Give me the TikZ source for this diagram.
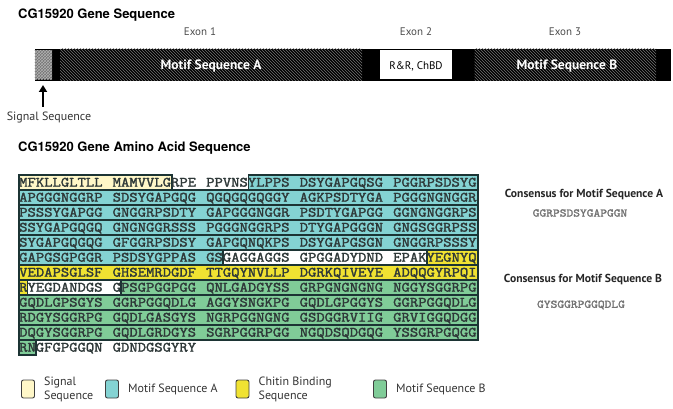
\documentclass[tikz,border=0pt]{standalone}
\usepackage{fontspec}
\setmainfont{PT Sans}
\newfontfamily\headfont{TeX Gyre Heros}
\newfontfamily\seqfont{Latin Modern Mono}[FakeBold=2,FakeStretch=1.14]
\usetikzlibrary{arrows.meta, positioning, patterns}

\definecolor{sigfill}{HTML}{FFF7C8}
\definecolor{motafill}{HTML}{84D3D3}
\definecolor{chbfill}{HTML}{F0E232}
\definecolor{motbfill}{HTML}{80CC98}
\definecolor{seqline}{HTML}{1C3434}
\definecolor{seqtext}{HTML}{2E3838}

\tikzset{%
   % headings above the two panels
   headline/.style={
      font=\headfont\bfseries\fontsize{13}{15}\selectfont,
      anchor=west,
      inner sep=0pt
   },
   exon/.style={font=\fontsize{11}{13}\selectfont, text=black!70},
   barlabel/.style={font=\bfseries\fontsize{13.5}{15}\selectfont, text=white},
   % one group of ten residues
   seqgroup/.style={
      font=\seqfont\fontsize{14.2}{15}\selectfont,
      anchor=base west,
      inner sep=0pt,
      text=seqtext
   },
   rowbox/.style={draw=seqline, line width=1.1pt},
   sigbox/.style={rowbox, fill=sigfill},
   motabox/.style={rowbox, fill=motafill},
   chbbox/.style={rowbox, fill=chbfill},
   motbbox/.style={rowbox, fill=motbfill},
   plainbox/.style={rowbox, fill=white},
   cons/.style={font=\bfseries\fontsize{11.6}{13}\selectfont, text=black!85},
   consseq/.style={font=\seqfont\fontsize{11.5}{13}\selectfont, text=black!55},
   legbox/.style={
      draw=black!75,
      line width=0.9pt,
      rounded corners=2pt,
      minimum width=13pt,
      minimum height=18pt,
      inner sep=0pt
   },
   leglabel/.style={
      font=\fontsize{12}{14}\selectfont,
      text=black!80,
      align=left,
      inner sep=0pt,
      right=9pt of #1
   },
}

% row, first column, last column, style
\newcommand\aabox[4]{%
   \path[#4] ({19+#2*8.5},{175+(#1-1)*15}) rectangle ({19+(#3+1)*8.5},{175+#1*15});}

\begin{document}
\begin{tikzpicture}[x=1pt, y=-1pt]
\useasboundingbox (0,0) rectangle (673,409);

% gene sequence
\node[headline] (genehead) at (18,15) {CG15920 Gene Sequence};
\node[exon] (exon1) at (200,32) {Exon 1};
\node[exon] (exon2) at (416,32) {Exon 2};
\node[exon] (exon3) at (565,32) {Exon 3};

\fill[black] (34.5,49) rectangle (671,81);
\fill[pattern=north west lines, pattern color=black!55] (60,49) rectangle (362,81);
\fill[pattern=north west lines, pattern color=black!55] (474.5,49) rectangle (656,81);
\fill[black!55] (34.5,50.5) rectangle (52,79.5);
\fill[pattern=crosshatch, pattern color=black!30] (34.5,50.5) rectangle (52,79.5);
\fill[white] (380,50.5) rectangle (452,79.5);

\node[barlabel] (motA) at (211,66) {Motif Sequence A};
\node[font=\fontsize{11}{13}\selectfont] (rrchbd) at (416,66) {R\&R, ChBD};
\node[barlabel] (motB) at (567,66) {Motif Sequence B};

\node[font=\fontsize{12}{14}\selectfont, text=black!80] (sigtxt) at (49,118) {Signal Sequence};
\coordinate (sigtail) at (43,107);
\coordinate (sigtip) at (43,85);
\draw[-{Triangle[length=7pt, width=8pt]}, line width=2pt] (sigtail) -- (sigtip);

% amino acid sequence
\node[headline] (aahead) at (18,148) {CG15920 Gene Amino Acid Sequence};

\foreach \r/\c/\d/\s in {1/0/17/sigbox, 1/27/53/motabox,
      2/0/53/motabox, 3/0/53/motabox, 4/0/53/motabox, 5/0/53/motabox,
      6/0/23/motabox, 6/24/47/plainbox, 6/48/53/chbbox,
      7/0/53/chbbox,
      8/0/0/chbbox, 8/1/11/plainbox, 8/12/53/motbbox,
      9/0/53/motbbox, 10/0/53/motbbox, 11/0/53/motbbox,
      12/0/1/motbbox}
   \aabox{\r}{\c}{\d}{\s};

\foreach \r/\a/\b/\c/\d/\e in {
      1/MFKLLGLTLL/MAMVVLGRPE/PPVNSYLPPS/DSYGAPGQSG/PGGRPSDSYG,
      2/APGGGNGGRP/SDSYGAPGQG/QGQGQGQGGY/AGKPSDTYGA/PGGGNGNGGR,
      3/PSSSYGAPGG/GNGGRPSDTY/GAPGGGNGGR/PSDTYGAPGG/GGNGNGGRPS,
      4/SSYGAPGQGQ/GNGNGGRSSS/PGGGNGGRPS/DTYGAPGGGN/GNGSGGRPSS,
      5/SYGAPGQGQG/GFGGRPSDSY/GAPGQNQKPS/DSYGAPGSGN/GNGGRPSSSY,
      6/GAPGSGPGGR/PSDSYGPPAS/GSGAGGAGGS/GPGGADYDND/EPAKYEGNYQ,
      7/VEDAPSGLSF/GHSEMRDGDF/TTGQYNVLLP/DGRKQIVEYE/ADQQGYRPQI,
      8/RYEGDANDGS/GPSGPGGPGG/QNLGADGYSS/GRPGNGNGNG/NGGYSGGRPG,
      9/GQDLGPSGYS/GGRPGGQDLG/AGGYSNGKPG/GQDLGPGGYS/GGRPGGQDLG,
      10/RDGYSGGRPG/GQDLGASGYS/NGRPGGNGNG/GSDGGRVIIG/GRVIGGQDGG,
      11/DQGYSGGRPG/GQDLGRDGYS/SGRPGGRPGG/NGQDSQDGQG/YSSGRPGQGG,
      12/RNGFGPGGQN/GDNDGSGYRY/{}/{}/{}}
   \foreach \g/\t in {0/\a, 1/\b, 2/\c, 3/\d, 4/\e}
      \node[seqgroup] (seq\r-\g) at ({19+\g*11*8.5},{175+(\r-1)*15+11.6}) {\t};

% consensus motifs
\node[cons] (consA) at (584,195) {Consensus for Motif Sequence A};
\node[consseq] (consAseq) at (580,213) {GGRPSDSYGAPGGN};
\node[cons] (consB) at (583,280) {Consensus for Motif Sequence B};
\node[consseq] (consBseq) at (581,305) {GYSGGRPGGQDLG};

% legend
\node[legbox, fill=sigfill] (legsig) at (28,389) {};
\node[leglabel=legsig] (legsigtxt) {Signal\\Sequence};
\node[legbox, fill=motafill] (legmota) at (112,389) {};
\node[leglabel=legmota] (legmotatxt) {Motif Sequence A};
\node[legbox, fill=chbfill] (legchb) at (242.5,389) {};
\node[leglabel=legchb] (legchbtxt) {Chitin Binding\\Sequence};
\node[legbox, fill=motbfill] (legmotb) at (380,389) {};
\node[leglabel=legmotb] (legmotbtxt) {Motif Sequence B};
\end{tikzpicture}
\end{document}
